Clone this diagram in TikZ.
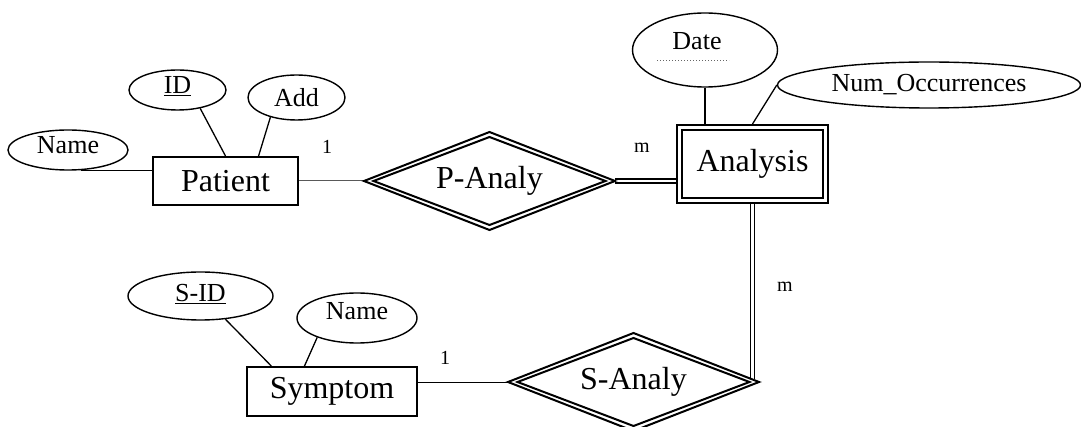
\documentclass[tikz,border=0pt]{standalone}
\usepackage{fontspec}
\setmainfont{Liberation Serif}
\usetikzlibrary{shapes.geometric,calc,backgrounds}

\begin{document}
\begin{tikzpicture}[x=1pt,y=-1pt,
  attr/.style={draw, ellipse, line width=1.4pt, inner sep=0pt,
    font=\fontsize{26}{26}\selectfont},
  entity/.style={draw, rectangle, line width=2pt, inner sep=0pt,
    font=\fontsize{32}{32}\selectfont},
  entityin/.style={draw, rectangle, line width=2pt, inner sep=0pt},
  rel/.style={draw, diamond, aspect=2.5, line width=2pt, inner sep=0pt, outer sep=0pt,
    minimum width=251pt, minimum height=98pt,
    font=\fontsize{32}{32}\selectfont},
  relin/.style={draw, diamond, aspect=2.5, line width=2pt, inner sep=0pt, outer sep=0pt,
    minimum width=232pt, minimum height=88pt},
  link/.style={line width=1.3pt},
  dbl/.style={double, double distance=2.4pt, line width=1.7pt},
  card/.style={font=\fontsize{20}{20}\selectfont, inner sep=0pt}]

\useasboundingbox (0,0) rectangle (1081,427);

% entities
\node[entity, minimum width=145pt, minimum height=48pt] (pt) at (225.5,181) {Patient};
\node[entity, minimum width=170pt, minimum height=49pt] (sy) at (332,391.5) {Symptom};
\node[entity, minimum width=151pt, minimum height=78pt] (an) at (752.5,164) {Analysis};
\node[entityin, minimum width=141pt, minimum height=68pt] (an-in) at (an.center) {};

% relationships (double diamonds)
\node[rel] (pa) at (489.5,181) {P-Analy};
\node[relin] (pa-in) at (pa.center) {};
\node[rel] (sa) at (633.5,382) {S-Analy};
\node[relin] (sa-in) at (sa.center) {};

% attributes
\node[attr, minimum width=120pt, minimum height=40pt, text depth=10pt] (nm) at (68,150) {Name};
\node[attr, minimum width=97pt, minimum height=40pt, text depth=10pt] (id) at (177.5,90) {\underline{ID}};
\node[attr, minimum width=97pt, minimum height=45pt] (ad) at (296.5,97.5) {Add};
\node[attr, minimum width=145pt, minimum height=74pt, text height=16pt, text depth=16pt] (dt) at (705,50) {Date\hspace*{16pt}};
\node[attr, minimum width=303pt, minimum height=46pt] (no) at (929,85) {Num\_Occurrences};
\node[attr, minimum width=145pt, minimum height=48pt, text depth=6pt] (sid) at (200.5,296) {\underline{S-ID}};
\node[attr, minimum width=120pt, minimum height=50pt, text depth=14pt] (nm2) at (357,318) {Name};

% partial-key marker under Date
\draw[dotted, gray!80!black, line width=1pt] ($(dt.center)+(-48,11)$) -- ($(dt.center)+(24,11)$);

% cardinalities
\node[card] (c1) at (327,147) {1};
\node[card] (c2) at (642,148) {m};
\node[card] (c3) at (445,358) {1};
\node[card] (c4) at (785,287) {m};

% connectors
\begin{scope}[on background layer]
  \draw[link] (nm.302) -- (nm.302 -| pt.west);
  \draw[link] (id.321) -- (pt.north);
  \draw[link] (ad.217) -- ($(pt.north)!0.45!(pt.north east)$);
  \draw[line width=1pt, gray!70!black] (pt.east) -- (pa.west);
  \draw[dbl] (pa.east) -- (pa.east -| an.west);
  \draw[link] (dt.south) -- (dt.south |- an.north);
  \draw[link] (no.west) -- (an.north);
  \coordinate (sa-hit) at ($(sa.east)!0.07!(sa.north)$);
  \draw[dbl] (an.south) -- (an.south |- sa-hit);
  \draw[line width=1pt] (sa.west -| sy.east) -- (sa.west);
  \draw[link] (sid.317) -- ($(sy.north west)!0.147!(sy.north east)$);
  \draw[link] (nm2.206) -- ($(sy.north west)!0.34!(sy.north east)$);
\end{scope}
\end{tikzpicture}
\end{document}
